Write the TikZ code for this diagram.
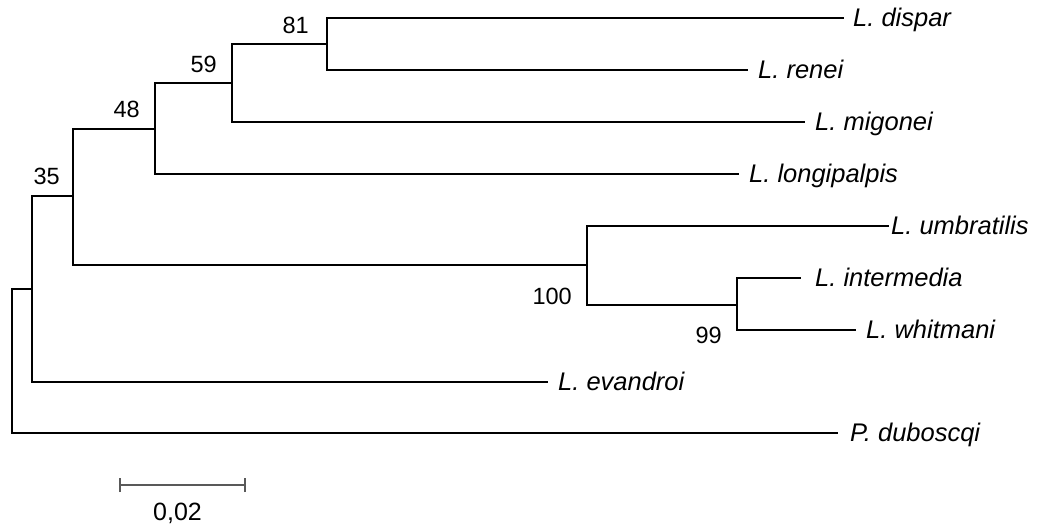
\documentclass[tikz,border=0pt]{standalone}
\usepackage{fontspec}
\setmainfont{Liberation Sans}
\begin{document}
\begin{tikzpicture}[x=1pt,y=-1pt,
  branch/.style={line width=2pt, line join=miter, line cap=rect},
  taxon/.style={anchor=base west, inner sep=0pt, font=\fontsize{25.5}{30}\selectfont\itshape},
  boot/.style={anchor=base east, inner sep=0pt, font=\fontsize{23.5}{28}\selectfont},
  scalebar/.style={line width=1.2pt, draw=black!65}]
\useasboundingbox (0,0) rectangle (1042,531);
% internal nodes
\coordinate (root) at (12,360.5);
\coordinate (nA) at (32,288.5);
\coordinate (nB) at (73,195.5);
\coordinate (n48) at (155,128.5);
\coordinate (n59) at (232,82.5);
\coordinate (n81) at (327,44);
\coordinate (n100) at (587,264.5);
\coordinate (n99) at (737,304.5);
% tips
\coordinate (tdispar) at (843,18);
\coordinate (trenei) at (747,70);
\coordinate (tmigonei) at (804,122);
\coordinate (tlongi) at (738,174);
\coordinate (tumbra) at (888,226);
\coordinate (tinter) at (800,278);
\coordinate (twhit) at (855,330);
\coordinate (tevan) at (547,382);
\coordinate (tdubo) at (837,433);
% branches
\draw[branch] (root) |- (nA);
\draw[branch] (root) |- (tdubo);
\draw[branch] (nA) |- (nB);
\draw[branch] (nA) |- (tevan);
\draw[branch] (nB) |- (n48);
\draw[branch] (nB) |- (n100);
\draw[branch] (n48) |- (n59);
\draw[branch] (n48) |- (tlongi);
\draw[branch] (n59) |- (n81);
\draw[branch] (n59) |- (tmigonei);
\draw[branch] (n81) |- (tdispar);
\draw[branch] (n81) |- (trenei);
\draw[branch] (n100) |- (tumbra);
\draw[branch] (n100) |- (n99);
\draw[branch] (n99) |- (tinter);
\draw[branch] (n99) |- (twhit);
% taxon labels
\node[taxon] (dispar) at (853,26.5) {L. dispar};
\node[taxon] (renei) at (758,78.5) {L. renei};
\node[taxon] (migonei) at (815,130.5) {L. migonei};
\node[taxon] (longi) at (749,182.5) {L. longipalpis};
\node[taxon] (umbra) at (891,234.5) {L. umbratilis};
\node[taxon] (inter) at (815,286.5) {L. intermedia};
\node[taxon] (whit) at (866,338.5) {L. whitmani};
\node[taxon] (evan) at (558,390.5) {L. evandroi};
\node[taxon] (dubo) at (850,441.5) {P. duboscqi};
% bootstrap values
\node[boot] (b81) at (309,33) {81};
\node[boot] (b59) at (217,72) {59};
\node[boot] (b48) at (140,117) {48};
\node[boot] (b35) at (60,184) {35};
\node[boot] (b100) at (572,304) {100};
\node[boot] (b99) at (722,343) {99};
% scale bar
\coordinate (sbL) at (120,485);
\coordinate (sbR) at (245,485);
\draw[scalebar] (sbL) -- (sbR);
\draw[scalebar] ([yshift=-7pt]sbL) -- ([yshift=7pt]sbL);
\draw[scalebar] ([yshift=-7pt]sbR) -- ([yshift=7pt]sbR);
\node[anchor=base, inner sep=0pt, font=\fontsize{25}{30}\selectfont] (sblabel) at (177.5,520) {0,02};
\end{tikzpicture}
\end{document}
